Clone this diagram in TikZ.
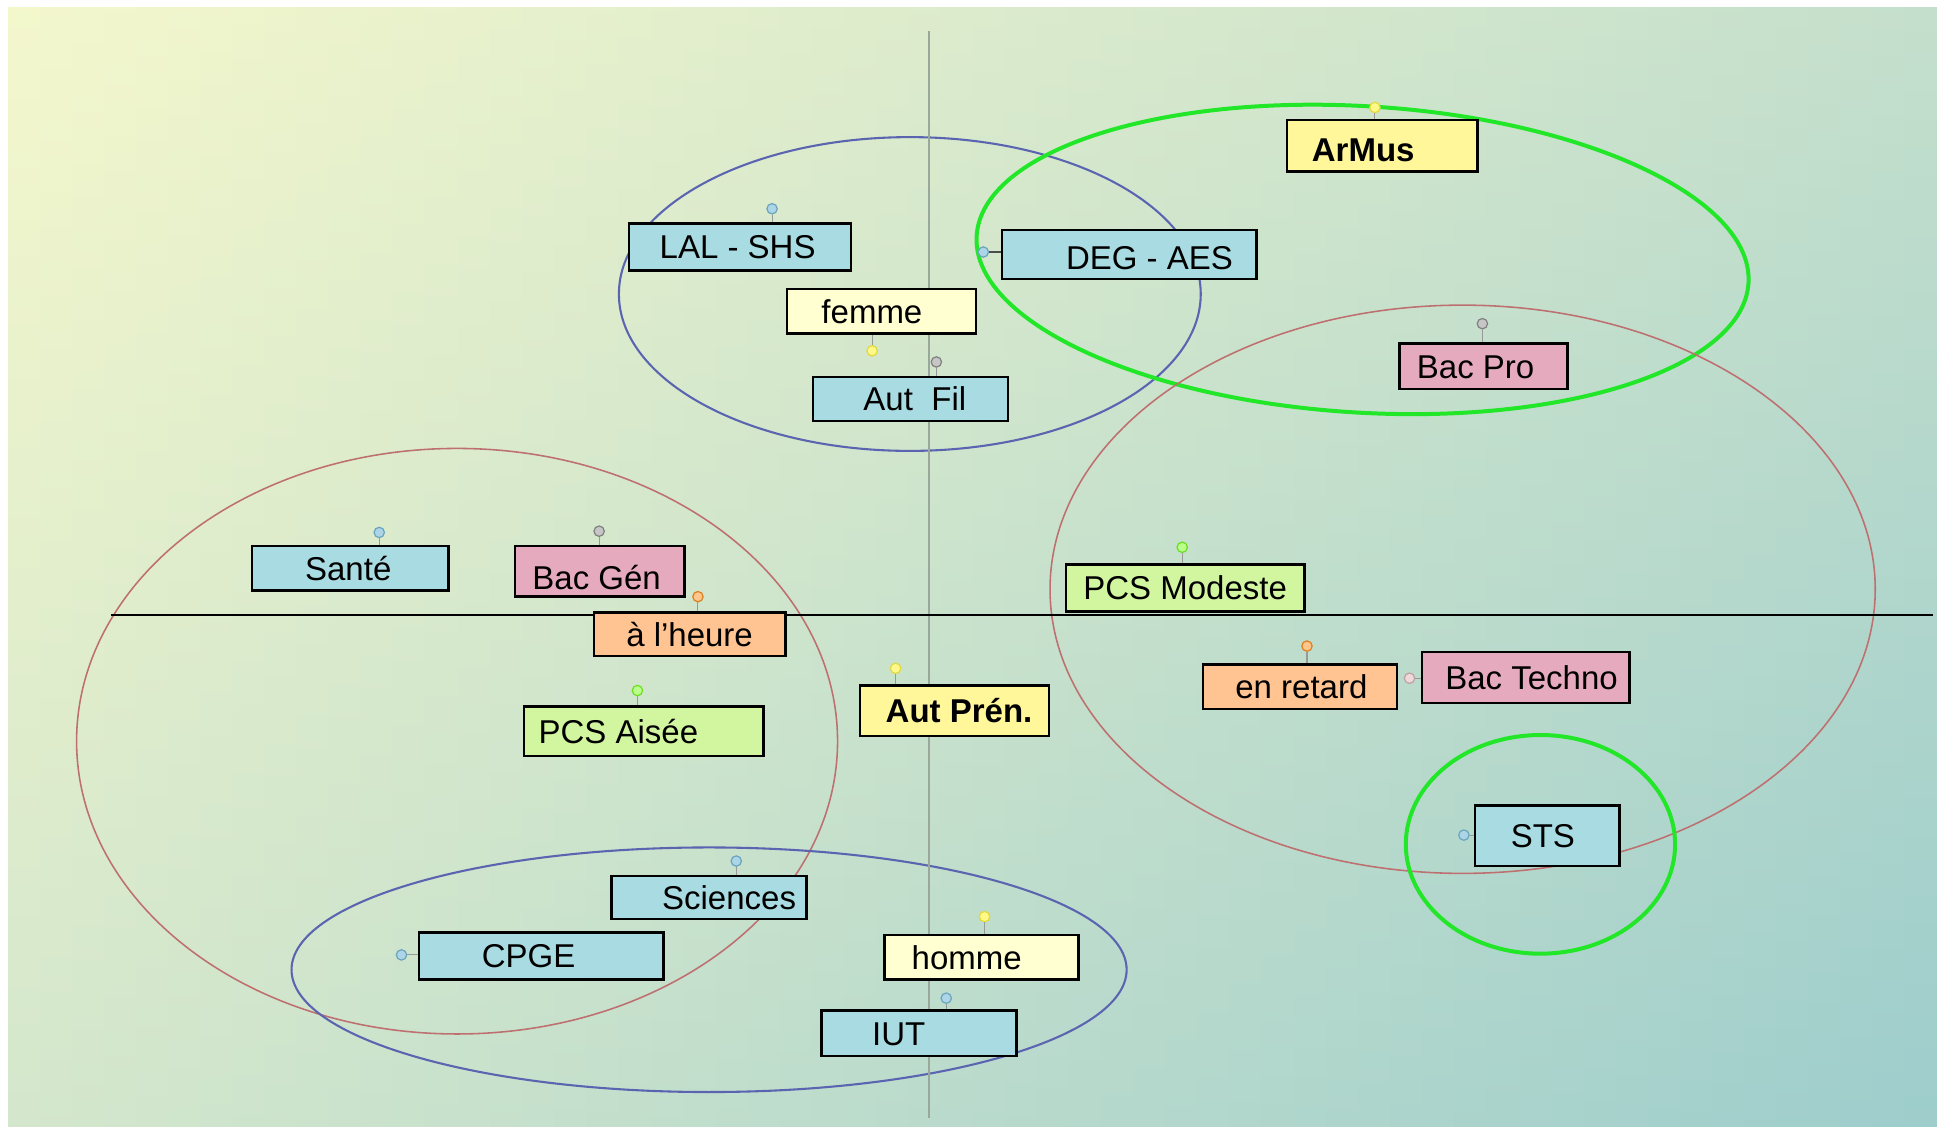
\documentclass[tikz,border=0pt]{standalone}
\usepackage{fontspec}
\setmainfont{Liberation Sans}
\definecolor{bgUL}{HTML}{F4F7CC}
\definecolor{bgUR}{HTML}{C4DFCC}
\definecolor{bgLL}{HTML}{D4E7CC}
\definecolor{bgLR}{HTML}{9DCDCC}
\definecolor{cblue}{HTML}{A9DCE2}
\definecolor{cyel}{HTML}{FFF799}
\definecolor{clyel}{HTML}{FFFFD2}
\definecolor{cpink}{HTML}{E6AABE}
\definecolor{cpeach}{HTML}{FFC492}
\definecolor{cgreen}{HTML}{D2F5A0}
\definecolor{eblue}{HTML}{5A64B0}
\definecolor{ered}{HTML}{BE7070}
\definecolor{egreen}{HTML}{22E628}
\definecolor{axgray}{HTML}{9AA89C}
\tikzset{
  lbl/.style={draw=black, line width=1.4pt, inner sep=0pt, text height=13.6pt, text depth=0pt,
    font=\fontsize{19}{22}\selectfont},
  fblue/.style={lbl, fill=cblue},
  fyel/.style={lbl, fill=cyel, font=\fontsize{19}{22}\selectfont\bfseries},
  flyel/.style={lbl, fill=clyel},
  fpink/.style={lbl, fill=cpink},
  fpeach/.style={lbl, fill=cpeach},
  fgreen/.style={lbl, fill=cgreen},
  dotm/.style={circle, inner sep=0pt, minimum size=0.21cm, line width=0.7pt, draw=#1!75!gray, fill=#1!45!white},
  stub/.style={line width=0.6pt, draw=gray!80},
  ellb/.style={draw=eblue, line width=1.2pt},
  ellr/.style={draw=ered, line width=0.9pt},
  ellg/.style={draw=egreen, line width=2.3pt},
}
\newcommand\lblbox[8]{%
  \pgfmathsetlengthmacro\bw{(#5-#3)*0.025cm}%
  \pgfmathsetlengthmacro\bh{(#6-#4)*0.025cm}%
  \pgfmathsetlengthmacro\lp{(#7-#3)*0.025cm}%
  \node[#2, minimum width=\bw, minimum height=\bh, anchor=north west] (#1) at (#3,#4) {\hbox to \bw{\hspace*{\lp}#8\hfil}};%
}
\begin{document}
\begin{tikzpicture}[x=0.025cm, y=-0.025cm]
\useasboundingbox (0,0) rectangle (1568,911.5);
\fill[white] (0,0) rectangle (1568,911.5);
% background: bilinear gradient built from vertical strips
\foreach \i in {0,...,59}{
  \pgfmathsetmacro\xa{6.5+\i*26.025}
  \pgfmathsetmacro\xb{\xa+27.5}
  \pgfmathsetmacro\pc{100-(\i+0.5)*100/60}
  \shade[top color={bgUL!\pc!bgUR}, bottom color={bgLL!\pc!bgLR}] (\xa,5.7) rectangle (\xb,911.5);
}

% ellipses
\draw[ellb] (736.5,238) ellipse [x radius=235.5, y radius=127];
\draw[ellg, rotate around={-3.5:(1103,210)}] (1103,210) ellipse [x radius=313, y radius=124];
\draw[ellr] (1184,477) ellipse [x radius=334, y radius=230];
\draw[ellr] (370,600) ellipse [x radius=308, y radius=237];
\draw[ellb] (574,785) ellipse [x radius=338, y radius=99];
\draw[ellg] (1247,683.5) ellipse [x radius=109, y radius=88.5];

% axes
\draw[axgray, line width=0.8pt] (752,25) -- (752,905);
\draw[black, line width=1.3pt] (90,498) -- (1565,498);

% dots
\node[dotm=yellow] (dArMus) at (1113,87) {};
\node[dotm=cyan!60!gray] (dLAL) at (625,169) {};
\node[dotm=cyan!60!gray] (dDEG) at (796,204) {};
\node[dotm=yellow] (dfemme) at (706,284) {};
\node[dotm=gray] (dAutFil) at (758,293) {};
\node[dotm=gray] (dBacPro) at (1200,262) {};
\node[dotm=cyan!60!gray] (dSante) at (307,431) {};
\node[dotm=gray] (dBacGen) at (485,430) {};
\node[dotm=orange] (dheure) at (565,483) {};
\node[dotm=green!60!yellow] (dPCSMod) at (957,443) {};
\node[dotm=green!60!yellow] (dPCSAis) at (516,559) {};
\node[dotm=yellow] (dAutPren) at (725,541) {};
\node[dotm=orange] (dretard) at (1058,523) {};
\node[dotm=pink!70!gray] (dBacTec) at (1141,549) {};
\node[dotm=cyan!60!gray] (dSTS) at (1185,676) {};
\node[dotm=cyan!60!gray] (dSci) at (596,697) {};
\node[dotm=cyan!60!gray] (dCPGE) at (325,773) {};
\node[dotm=yellow] (dhomme) at (797,742) {};
\node[dotm=cyan!60!gray] (dIUT) at (766,808) {};

% boxes
\lblbox{ArMus}{fyel}{1041}{96}{1195}{138}{1061}{\raisebox{-0.08cm}{ArMus}}
\lblbox{LAL}{fblue}{508}{180}{688}{218}{533}{LAL - SHS}
\lblbox{DEG}{fblue}{810}{185}{1016}{225}{862}{\raisebox{-0.06cm}{DEG - AES}}
\lblbox{femme}{flyel}{636}{233}{789}{269}{664}{femme}
\lblbox{AutFil}{fblue}{657}{304}{815}{340}{698}{Aut\ \ Fil}
\lblbox{BacPro}{fpink}{1132}{277}{1268}{314}{1146}{Bac Pro}
\lblbox{Sante}{fblue}{203}{441}{362}{477}{246}{Santé}
\lblbox{BacGen}{fpink}{416}{441}{553}{482}{430}{\raisebox{-0.12cm}{Bac Gén}}
\lblbox{heure}{fpeach}{480}{495}{635}{530}{506}{à l'heure}
\lblbox{PCSMod}{fgreen}{862}{456}{1055}{494}{876}{PCS Modeste}
\lblbox{PCSAis}{fgreen}{423}{571}{617}{611}{435}{PCS Aisée}
\lblbox{AutPren}{fyel}{695}{554}{848}{595}{716}{Aut Prén.}
\lblbox{retard}{fpeach}{973}{537}{1130}{573}{999}{en retard}
\lblbox{BacTec}{fpink}{1150}{527}{1318}{568}{1169}{Bac Techno}
\lblbox{STS}{fblue}{1193}{651}{1310}{700}{1222}{STS}
\lblbox{Sci}{fblue}{494}{708}{652}{743}{535}{Sciences}
\lblbox{CPGE}{fblue}{338}{754}{536}{792}{389}{CPGE}
\lblbox{homme}{flyel}{715}{756}{872}{792}{737}{homme}
\lblbox{IUT}{fblue}{664}{817}{822}{854}{705}{IUT}

% stubs
\draw[stub] (dArMus) -- (dArMus |- ArMus.north);
\draw[stub] (dLAL) -- (dLAL |- LAL.north);
\draw[stub, draw=black!70] (dDEG) -- (dDEG -| DEG.west);
\draw[stub] (dfemme) -- (dfemme |- femme.south);
\draw[stub] (dAutFil) -- (dAutFil |- AutFil.north);
\draw[stub] (dBacPro) -- (dBacPro |- BacPro.north);
\draw[stub] (dSante) -- (dSante |- Sante.north);
\draw[stub] (dBacGen) -- (dBacGen |- BacGen.north);
\draw[stub] (dheure) -- (dheure |- heure.north);
\draw[stub] (dPCSMod) -- (dPCSMod |- PCSMod.north);
\draw[stub] (dPCSAis) -- (dPCSAis |- PCSAis.north);
\draw[stub] (dAutPren) -- (dAutPren |- AutPren.north);
\draw[stub] (dretard) -- (dretard |- retard.north);
\draw[stub] (dBacTec) -- (dBacTec -| BacTec.west);
\draw[stub] (dSTS) -- (dSTS -| STS.west);
\draw[stub] (dSci) -- (dSci |- Sci.north);
\draw[stub] (dCPGE) -- (dCPGE -| CPGE.west);
\draw[stub] (dhomme) -- (dhomme |- homme.north);
\draw[stub] (dIUT) -- (dIUT |- IUT.north);
\end{tikzpicture}
\end{document}
